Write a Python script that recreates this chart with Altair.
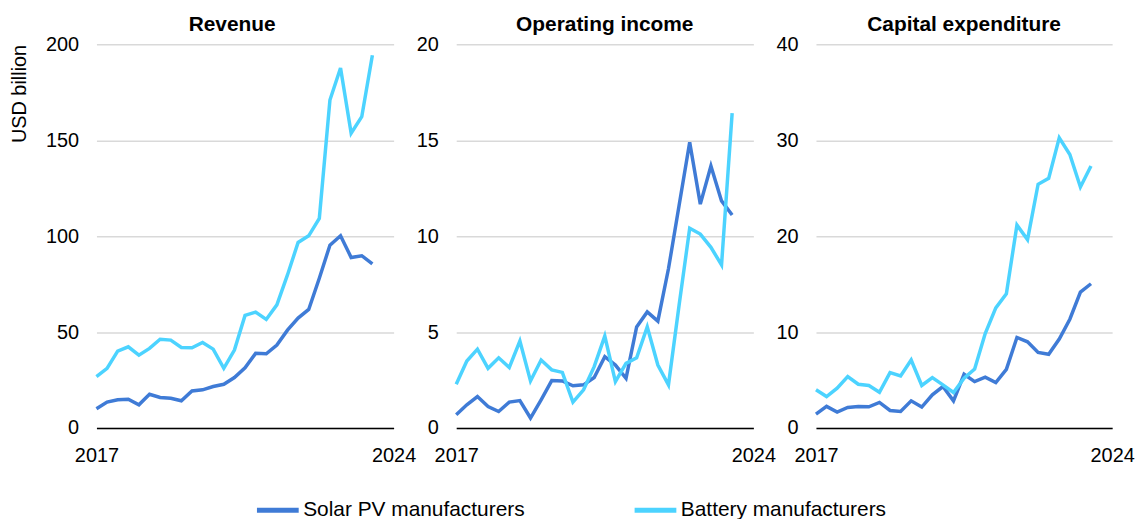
import altair as alt
import pandas as pd

# Quarterly periods 2017Q1 .. 2023Q3
quarters = [f"{y}Q{q}" for y in range(2017, 2024) for q in range(1, 5)][:27]

series_names = ["Solar PV manufacturers", "Battery manufacturers"]
series_colors = ["#3F7BD6", "#4CD3FF"]

revenue_solar = [10.0, 13.5, 14.7, 15.0, 12.1, 17.6, 15.9, 15.5, 14.2, 19.3, 19.9, 21.6, 22.8, 26.3,
                 31.4, 38.9, 38.7, 43.2, 51.0, 57.3, 61.8, 78.1, 95.3, 100.2, 88.9, 89.8, 85.5]
revenue_battery = [26.8, 31.1, 40.1, 42.3, 38.0, 41.5, 46.3, 45.8, 42.0, 41.8, 44.6, 41.1, 31.1, 40.6,
                   58.7, 60.4, 56.6, 64.2, 79.8, 96.7, 100.2, 109.3, 171.0, 187.7, 153.7, 162.3, 194.3]

opinc_solar = [0.69, 1.21, 1.64, 1.12, 0.86, 1.35, 1.43, 0.52, 1.47, 2.47, 2.45, 2.20, 2.25, 2.63,
               3.72, 3.28, 2.59, 5.27, 6.05, 5.57, 8.30, 11.6, 14.9, 11.67, 13.66, 11.84, 11.10]
opinc_battery = [2.28, 3.49, 4.11, 3.11, 3.66, 3.15, 4.53, 2.45, 3.54, 3.03, 2.90, 1.35, 1.99, 3.20,
                 4.79, 2.42, 3.37, 3.66, 5.27, 3.28, 2.25, 6.4, 10.41, 10.11, 9.42, 8.50, 16.42]

capex_solar = [1.45, 2.25, 1.66, 2.14, 2.25, 2.21, 2.66, 1.83, 1.73, 2.83, 2.18, 3.46, 4.32, 2.83,
               5.60, 4.84, 5.29, 4.74, 6.12, 9.44, 8.99, 7.88, 7.68, 9.27, 11.34, 14.17, 15.04]
capex_battery = [3.98, 3.28, 4.15, 5.36, 4.56, 4.43, 3.73, 5.77, 5.43, 7.09, 4.43, 5.26, 4.49, 3.70,
                 5.19, 6.15, 9.85, 12.52, 14.00, 21.16, 19.64, 25.41, 26.03, 30.25, 28.52, 25.13, 27.31]

panels = [
    ("Revenue", revenue_solar, revenue_battery, 200, [0, 50, 100, 150, 200]),
    ("Operating income", opinc_solar, opinc_battery, 20, [0, 5, 10, 15, 20]),
    ("Capital expenditure", capex_solar, capex_battery, 40, [0, 10, 20, 30, 40]),
]
panel_widths = [299, 299, 298]

x_ticks = [2017, 2024]
FONT = "Liberation Sans"


def qtime(label):
    return int(label[:4]) + (int(label[-1]) - 1) / 4


def make_panel(idx, title, solar, battery, ymax, yticks):
    rows = []
    for name, vals in zip(series_names, [solar, battery]):
        for q, v in zip(quarters, vals):
            rows.append({"t": qtime(q), "value": v, "series": name})
    df = pd.DataFrame(rows)
    return (
        alt.Chart(df)
        .mark_line(strokeWidth=3.5)
        .encode(
            x=alt.X(
                "t:Q",
                scale=alt.Scale(domain=[2017, 2024], nice=False, zero=False),
                axis=alt.Axis(values=x_ticks, format="d", title=None, grid=False, ticks=False,
                              domainColor="#000000", domainWidth=1.5, labelPadding=18,
                              labelFlush=False),
            ),
            y=alt.Y(
                "value:Q",
                scale=alt.Scale(domain=[0, ymax], nice=False),
                axis=alt.Axis(values=yticks, title="USD billion" if idx == 0 else None,
                              grid=True, gridColor="#D9D9D9", gridWidth=1.5, domain=False,
                              ticks=False, labelPadding=18, titleAnchor="end",
                              titlePadding=16),
            ),
            color=alt.Color(
                "series:N",
                scale=alt.Scale(domain=series_names, range=series_colors),
                legend=alt.Legend(title=None, orient="none", direction="horizontal",
                                  legendX=159, legendY=445, symbolType="stroke",
                                  symbolSize=1764, symbolStrokeWidth=5, labelFontSize=21,
                                  labelFont=FONT, labelColor="#000000", labelOffset=2,
                                  columnPadding=100, labelLimit=400),
            ),
            order="t:Q",
        )
        .properties(
            width=panel_widths[idx],
            height=386,
            title=alt.TitleParams(title, font=FONT, fontSize=21, fontWeight="bold",
                                  color="#000000", offset=-1, dx=-13 if idx == 0 else 0),
        )
    )


charts = [make_panel(i, *p) for i, p in enumerate(panels)]

chart = (
    alt.hconcat(*charts, spacing=63, bounds="flush")
    .resolve_scale(y="independent")
    .configure_view(stroke=None)
    .configure_axis(labelFont=FONT, labelFontSize=20, labelColor="#000000",
                    titleFont=FONT, titleFontSize=20, titleFontWeight="normal",
                    titleColor="#000000")
    .properties(padding={"left": 1, "top": 5, "right": 0, "bottom": 0}, background="#FFFFFF")
)

chart.save("out.html", embed_options={"renderer": "svg", "actions": False})
